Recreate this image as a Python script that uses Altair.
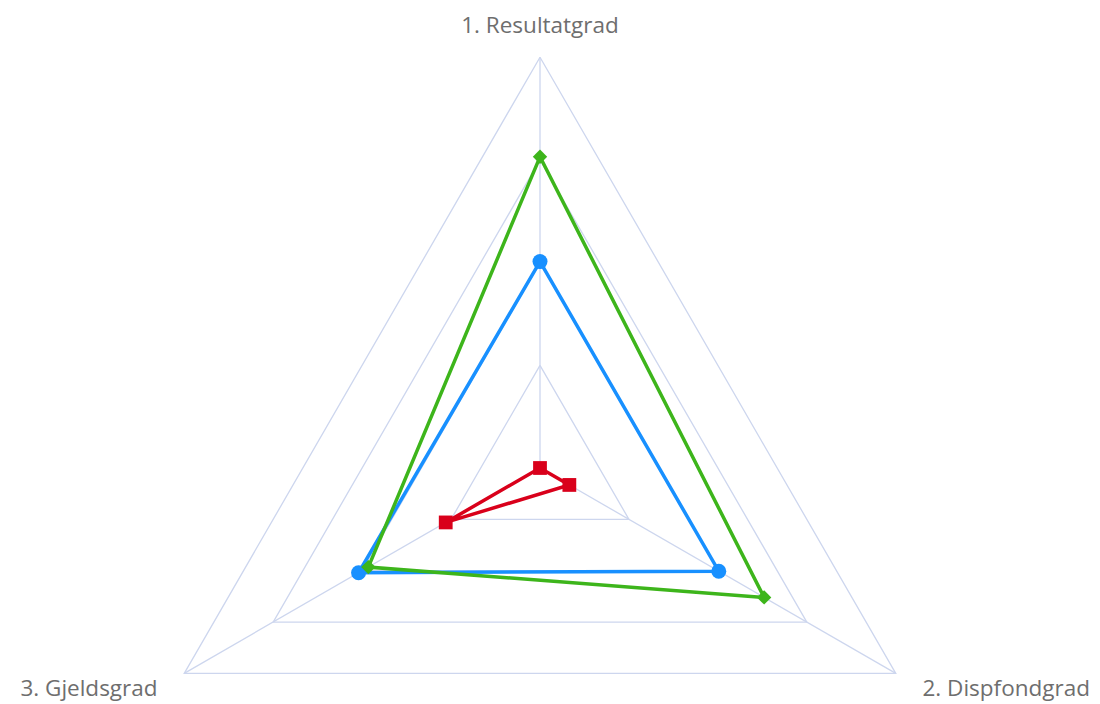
import altair as alt
import pandas as pd

# ---- data ----
categories = ["1. Resultatgrad", "2. Dispfondgrad", "3. Gjeldsgrad"]
series_names = ["Serie 1", "Serie 2", "Serie 3"]
blue_values = [2.01, 2.01, 2.04]
green_values = [3.03, 2.52, 1.93]
red_values = [0.0, 0.33, 1.06]
ring_levels = [1, 2, 3, 4]
axis_max = 4

series_values = [blue_values, green_values, red_values]
colors = ["#1890FF", "#3DB51B", "#D9001B"]
shapes = ["circle", "diamond", "square"]
sizes = [225, 190, 240]

n = len(categories)

# series table (closed polygon: repeat first point at the end)
rows = []
for name, vals in zip(series_names, series_values):
    for k in range(n + 1):
        i = k % n
        rows.append({"series": name, "idx": i, "ord": k, "r": vals[i], "cat": categories[i]})
series_df = pd.DataFrame(rows)

# grid rings
ring_rows = []
for lv in ring_levels:
    for k in range(n + 1):
        ring_rows.append({"level": lv, "idx": k % n, "ord": k, "r": lv})
ring_df = pd.DataFrame(ring_rows)

spoke_df = pd.DataFrame({"idx": list(range(n)), "r": [axis_max] * n})
label_df = pd.DataFrame({"idx": list(range(n)), "cat": categories, "r": [axis_max * 1.075] * n})

K = 102.7  # px per unit
W, H = 1084, 696
cx, cy = 532, 460
xs = alt.Scale(domain=[-cx / K, (W - cx) / K], nice=False, zero=False)
ys = alt.Scale(domain=[-(H - cy) / K, cy / K], nice=False, zero=False)

xexpr = "datum.r * sin(datum.idx * 2 * PI / 3)"
yexpr = "datum.r * cos(datum.idx * 2 * PI / 3)"

grid_color = "#CDD6EE"

rings = alt.Chart(ring_df).transform_calculate(px=xexpr, py=yexpr).mark_line(
    color=grid_color, strokeWidth=1.3
).encode(
    x=alt.X("px:Q", scale=xs, axis=None),
    y=alt.Y("py:Q", scale=ys, axis=None),
    detail="level:N",
    order="ord:Q",
)

spokes = alt.Chart(spoke_df).transform_calculate(
    px=xexpr, py=yexpr, zero="0"
).mark_rule(color=grid_color, strokeWidth=1.3).encode(
    x=alt.X("zero:Q", scale=xs, axis=None),
    y=alt.Y("zero:Q", scale=ys, axis=None),
    x2="px:Q",
    y2="py:Q",
)

color_scale = alt.Scale(domain=series_names, range=colors)

lines = alt.Chart(series_df).transform_calculate(px=xexpr, py=yexpr).mark_line(
    strokeWidth=3.5
).encode(
    x=alt.X("px:Q", scale=xs, axis=None),
    y=alt.Y("py:Q", scale=ys, axis=None),
    color=alt.Color("series:N", scale=color_scale, legend=None),
    detail="series:N",
    order="ord:Q",
)

points = alt.Chart(series_df).transform_filter("datum.ord < 3").transform_calculate(
    px=xexpr, py=yexpr
).mark_point(filled=True, opacity=1).encode(
    x=alt.X("px:Q", scale=xs, axis=None),
    y=alt.Y("py:Q", scale=ys, axis=None),
    color=alt.Color("series:N", scale=color_scale, legend=None),
    shape=alt.Shape("series:N", scale=alt.Scale(domain=series_names, range=shapes), legend=None),
    size=alt.Size("series:N", scale=alt.Scale(domain=series_names, range=sizes), legend=None),
)

def label_layer(i, align):
    return alt.Chart(label_df).transform_filter(f"datum.idx == {i}").transform_calculate(
        px=xexpr, py=yexpr
    ).mark_text(
        align=align, baseline="middle", fontSize=22.5, font="Open Sans", color="#6E6E6E"
    ).encode(
        x=alt.X("px:Q", scale=xs, axis=None),
        y=alt.Y("py:Q", scale=ys, axis=None),
        text="cat:N",
    )

labels = label_layer(0, "center") + label_layer(1, "left") + label_layer(2, "right")

chart = alt.layer(rings, spokes, lines, points, labels).properties(
    width=W, height=H, padding=0,
    autosize=alt.AutoSizeParams(type="none"),
).configure_view(stroke=None)

chart.save("out.html", embed_options={"renderer": "svg", "actions": False})
